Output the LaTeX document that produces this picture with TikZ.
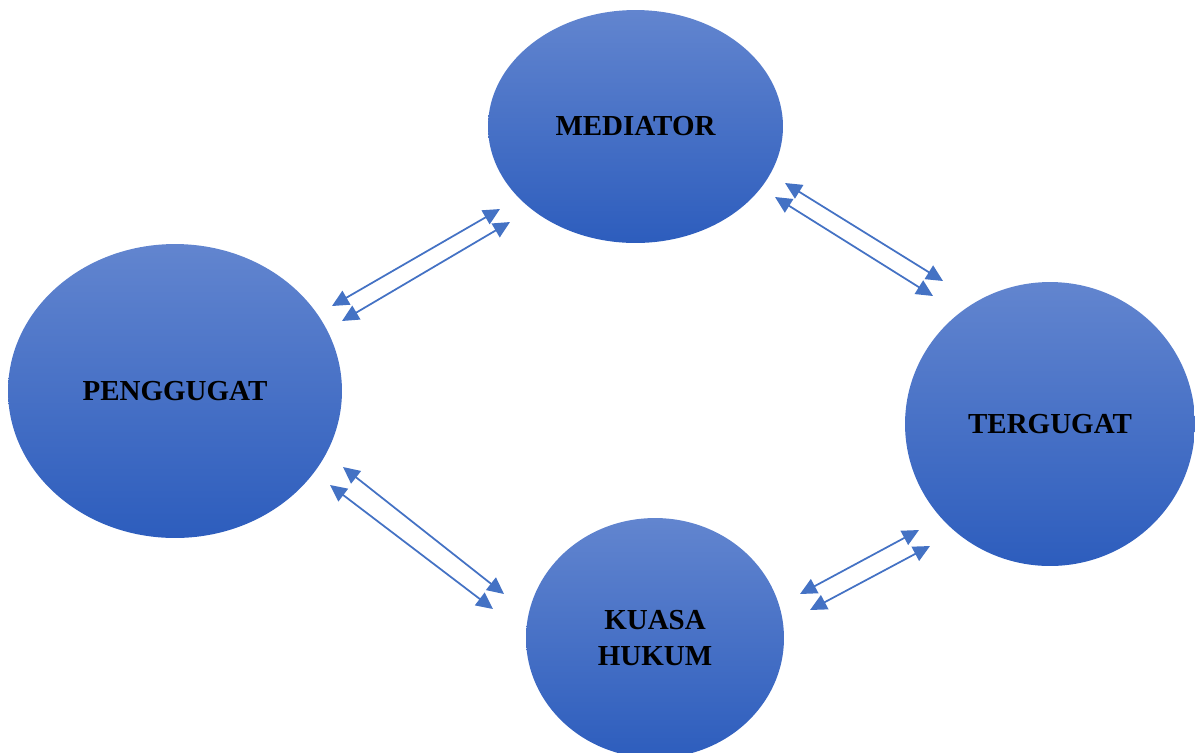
\documentclass[tikz,border=0pt]{standalone}
\usepackage{fontspec}
\setmainfont{Liberation Serif}
\usetikzlibrary{shapes.geometric,arrows.meta}
\definecolor{topblue}{HTML}{6285CF}
\definecolor{botblue}{HTML}{2D5DBD}
\definecolor{arrblue}{HTML}{4472C4}
\tikzset{
  party/.style={ellipse, draw=none, inner sep=0pt, top color=topblue, bottom color=botblue,
    font=\fontsize{16.5}{20.5}\selectfont\bfseries, text=black, align=center},
  link/.style={draw=arrblue, line width=1pt, {Triangle[length=9.5pt,width=9pt]}-{Triangle[length=9.5pt,width=9pt]}, color=arrblue}
}
\begin{document}
\begin{tikzpicture}[x=0.02cm,y=-0.02cm]
\useasboundingbox (0,0) rectangle (1195,752);
\clip (0,0) rectangle (1195,752);
\node[party, minimum width=5.9cm, minimum height=4.66cm] (med) at (635.5,126.5) {MEDIATOR};
\node[party, minimum width=6.68cm, minimum height=5.88cm] (pen) at (175,391) {PENGGUGAT};
\node[party, minimum width=5.8cm, minimum height=5.68cm] (ter) at (1050,424) {TERGUGAT};
\node[party, minimum width=5.16cm, minimum height=4.8cm] (kua) at (655,638) {KUASA\\HUKUM};
% endpoints
\coordinate (pm1a) at (332,306); \coordinate (pm1b) at (500,209);
\coordinate (pm2a) at (342,321); \coordinate (pm2b) at (510,222);
\coordinate (mt1a) at (785,183); \coordinate (mt1b) at (943,281);
\coordinate (mt2a) at (775,197); \coordinate (mt2b) at (933,296);
\coordinate (pk1a) at (343,467); \coordinate (pk1b) at (504,594);
\coordinate (pk2a) at (330,485); \coordinate (pk2b) at (493,609);
\coordinate (kt1a) at (800,594); \coordinate (kt1b) at (919,530);
\coordinate (kt2a) at (810,610); \coordinate (kt2b) at (930,546);
\draw[link] (pm1a) -- (pm1b);
\draw[link] (pm2a) -- (pm2b);
\draw[link] (mt1a) -- (mt1b);
\draw[link] (mt2a) -- (mt2b);
\draw[link] (pk1a) -- (pk1b);
\draw[link] (pk2a) -- (pk2b);
\draw[link] (kt1a) -- (kt1b);
\draw[link] (kt2a) -- (kt2b);
\end{tikzpicture}
\end{document}
